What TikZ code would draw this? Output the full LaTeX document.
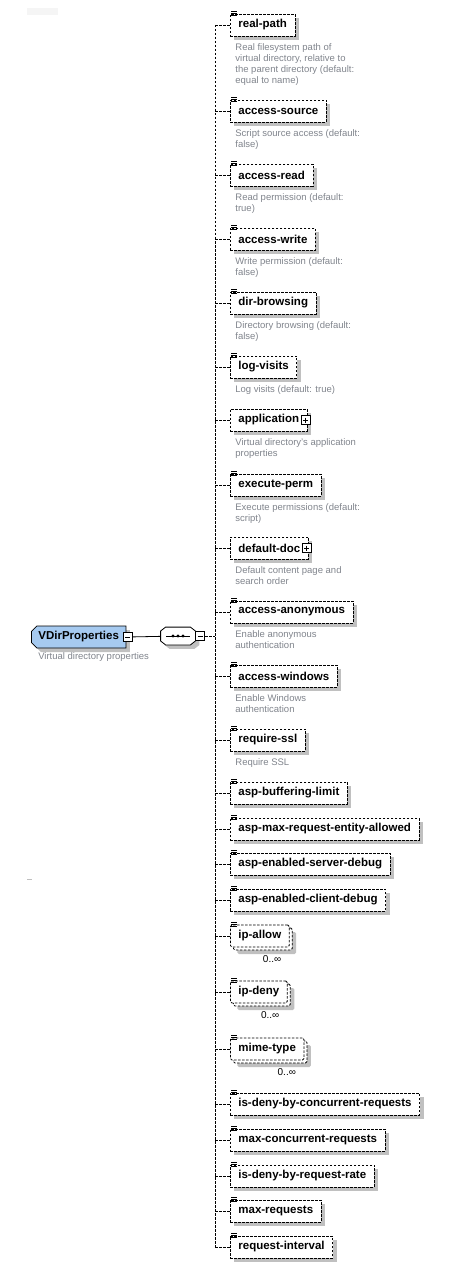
\documentclass[tikz,border=0pt]{standalone}
\usepackage{fontspec}
\setmainfont{Liberation Sans}
\usetikzlibrary{shapes.misc,shadows}
\definecolor{rootblue}{RGB}{166,202,240}
\definecolor{descgray}{RGB}{128,132,140}
\definecolor{shadowgray}{RGB}{192,192,192}
\begin{document}
\begin{tikzpicture}[x=1pt, y=-1pt, line width=0.8pt,
	boxshadow/.style={drop shadow={shadow xshift=4pt, shadow yshift=-4pt, opacity=1, fill=shadowgray}},
	elem/.style={draw, dash pattern=on 2.5pt off 1.5pt, fill=white, boxshadow, anchor=west, minimum height=22pt, inner xsep=8pt, inner ysep=0pt, font=\bfseries\fontsize{11.5}{13}\selectfont},
	many/.style={draw, dash pattern=on 2.5pt off 1.5pt, fill=white, rounded corners=1.5pt, anchor=west, minimum height=22pt, inner xsep=8pt, inner ysep=0pt, font=\bfseries\fontsize{11.5}{13}\selectfont,
		drop shadow={shadow xshift=7pt, shadow yshift=-7pt, opacity=1, fill=shadowgray},
		copy shadow={shadow xshift=3pt, shadow yshift=-3pt, opacity=1, draw=black, fill=white, dash pattern=on 2.5pt off 1.5pt}},
	desc/.style={anchor=north west, inner sep=0pt, align=left, text=descgray, font=\fontsize{9.5}{11}\selectfont},
	occurs/.style={anchor=north east, inner sep=0pt, font=\fontsize{10}{12}\selectfont},
	root/.style={draw, fill=rootblue, chamfered rectangle, chamfered rectangle corners={north west, south west}, chamfered rectangle xsep=2pt, boxshadow, anchor=west, minimum height=22pt, inner xsep=5pt, inner ysep=0pt, font=\bfseries\fontsize{11.5}{13}\selectfont},
	seq/.style={minimum width=34pt, minimum height=17pt, inner sep=0pt},
	minusbox/.style={draw, fill=white, solid, minimum size=9pt, inner sep=0pt, path picture={\draw ([xshift=2pt]path picture bounding box.west) -- ([xshift=-2pt]path picture bounding box.east);}},
	plusbox/.style={minusbox, path picture={\draw ([xshift=2pt]path picture bounding box.west) -- ([xshift=-2pt]path picture bounding box.east); \draw ([yshift=-2pt]path picture bounding box.north) -- ([yshift=2pt]path picture bounding box.south);}},
	branch/.style={dash pattern=on 2.5pt off 1.5pt}]
	\useasboundingbox (0,0) rectangle (464,1273);
	\fill[black!4] (27,8) rectangle (58,15);
	\fill[black!25] (27,878.5) rectangle (32,879.5);
	
	\node[root] (vdir) at (31,637) {VDirProperties\hspace{1pt}};
	\node[minusbox] (vdirmin) at ([xshift=1.5pt]vdir.east) {};
	\node[desc] (vdirdesc) at ([shift={(4,7)}]vdir.south west) {Virtual directory properties};
	
	\node[seq] (seq) at (178,636) {};
	\draw[fill=white, boxshadow] ([yshift=5pt]seq.west) -- ([xshift=5pt]seq.north west) -- ([xshift=-5pt]seq.north east) -- ([yshift=5pt]seq.east)
		-- ([yshift=-5pt]seq.east) -- ([xshift=-5pt]seq.south east) -- ([xshift=5pt]seq.south west) -- ([yshift=-5pt]seq.west) -- cycle;
	\node[minusbox, anchor=west] (seqmin) at (seq.east) {};
	\draw ([xshift=-12pt]seq.center) -- ([xshift=12pt]seq.center);
	\foreach \dx in {-5,0,5}
		\fill ([xshift=\dx pt]seq.center) circle (1.6pt);
	\coordinate (fork) at (215,636);
	
	\node[elem] (rp) at (230,25) {real-path};
	\node[desc] (rpdesc) at ([shift={(5,7)}]rp.south west) {Real filesystem path of\\virtual directory, relative to\\the parent directory (default:\\equal to name)};
	\node[elem] (asrc) at (230,111) {access-source};
	\node[desc] (asrcdesc) at ([shift={(5,7)}]asrc.south west) {Script source access (default:\\false)};
	\node[elem] (ard) at (230,175) {access-read};
	\node[desc] (arddesc) at ([shift={(5,7)}]ard.south west) {Read permission (default:\\true)};
	\node[elem] (awr) at (230,239) {access-write};
	\node[desc] (awrdesc) at ([shift={(5,7)}]awr.south west) {Write permission (default:\\false)};
	\node[elem] (dirb) at (230,303) {dir-browsing};
	\node[desc] (dirbdesc) at ([shift={(5,7)}]dirb.south west) {Directory browsing (default:\\false)};
	\node[elem] (logv) at (230,367) {log-visits};
	\node[desc] (logvdesc) at ([shift={(5,7)}]logv.south west) {Log visits (default: true)};
	\node[elem] (app) at (230,420) {application\hspace{8pt}};
	\node[plusbox] (appplus) at ([xshift=-2pt]app.east) {};
	\node[desc] (appdesc) at ([shift={(5,7)}]app.south west) {Virtual directory's application\\properties};
	\node[elem] (exe) at (230,485) {execute-perm};
	\node[desc] (exedesc) at ([shift={(5,7)}]exe.south west) {Execute permissions (default:\\script)};
	\node[elem] (ddoc) at (230,548) {default-doc\hspace{7pt}};
	\node[plusbox] (ddocplus) at ([xshift=-2pt]ddoc.east) {};
	\node[desc] (ddocdesc) at ([shift={(5,7)}]ddoc.south west) {Default content page and\\search order};
	\node[elem] (anon) at (230,612) {access-anonymous};
	\node[desc] (anondesc) at ([shift={(5,7)}]anon.south west) {Enable anonymous\\authentication};
	\node[elem] (win) at (230,676) {access-windows};
	\node[desc] (windesc) at ([shift={(5,7)}]win.south west) {Enable Windows\\authentication};
	\node[elem] (ssl) at (230,740) {require-ssl};
	\node[desc] (ssldesc) at ([shift={(5,7)}]ssl.south west) {Require SSL};
	\node[elem] (buf) at (230,793) {asp-buffering-limit};
	\node[elem] (maxent) at (230,829) {asp-max-request-entity-allowed};
	\node[elem] (srvdbg) at (230,864) {asp-enabled-server-debug};
	\node[elem] (clidbg) at (230,900) {asp-enabled-client-debug};
	\node[many] (ipa) at (230,936) {ip-allow};
	\node[occurs] (ipaocc) at ([shift={(-8,8)}]ipa.south east) {0..∞};
	\node[many] (ipd) at (230,992) {ip-deny};
	\node[occurs] (ipdocc) at ([shift={(-8,8)}]ipd.south east) {0..∞};
	\node[many] (mime) at (230,1049) {mime-type};
	\node[occurs] (mimeocc) at ([shift={(-8,8)}]mime.south east) {0..∞};
	\node[elem] (denyconc) at (230,1104) {is-deny-by-concurrent-requests};
	\node[elem] (maxconc) at (230,1140) {max-concurrent-requests};
	\node[elem] (denyrate) at (230,1176) {is-deny-by-request-rate};
	\node[elem] (maxreq) at (230,1211) {max-requests};
	\node[elem] (reqint) at (230,1247) {request-interval};
	
	% simple content marks
	\foreach \n in {rp,asrc,ard,awr,dirb,logv,exe,anon,win,ssl,buf,maxent,srvdbg,clidbg,ipa,ipd,mime,denyconc,maxconc,denyrate,maxreq,reqint}
		\foreach \dy in {-2.5,-0.5,1.5}
			\draw[line width=0.7pt] ([shift={(1,\dy)}]\n.north west) -- ++(6,0);
	
	\draw (vdirmin) -- (seq);
	\draw[branch] (seqmin.east) -- (fork);
	\draw[branch] (fork |- rp.west) -- (fork |- reqint.west);
	\foreach \n in {rp,asrc,ard,awr,dirb,logv,app,exe,ddoc,anon,win,ssl,buf,maxent,srvdbg,clidbg,ipa,ipd,mime,denyconc,maxconc,denyrate,maxreq,reqint}
		\draw[branch] (fork |- \n.west) -- (\n.west);
\end{tikzpicture}
\end{document}
